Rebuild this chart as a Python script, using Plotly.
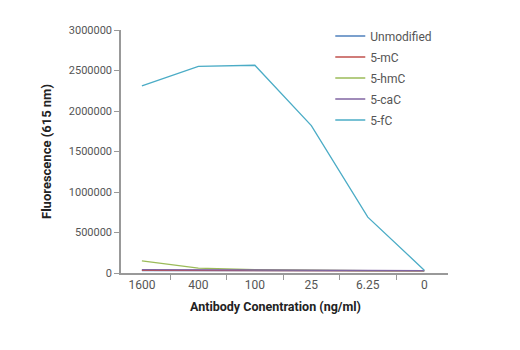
import plotly.graph_objects as go

categories = ["1600", "400", "100", "25", "6.25", "0"]
unmodified = [30000, 28000, 28000, 27000, 27000, 27000]
mc5 = [32000, 30000, 29000, 28000, 28000, 28000]
hmc5 = [150000, 60000, 40000, 32000, 30000, 30000]
cac5 = [42000, 38000, 33000, 30000, 29000, 29000]
fc5 = [2310000, 2550000, 2565000, 1820000, 690000, 35000]

series = [
    ("Unmodified", unmodified, "#4F81BD"),
    ("5-mC", mc5, "#C0504D"),
    ("5-hmC", hmc5, "#9BBB59"),
    ("5-caC", cac5, "#8064A2"),
    ("5-fC", fc5, "#4BACC6"),
]

font_family = "Roboto, sans-serif"

fig = go.Figure()
for name, vals, color in series:
    fig.add_trace(go.Scatter(x=categories, y=vals, name=name, mode="lines",
                             legendgroup=name,
                             line=dict(color=color, width=1.3)))

fig.update_layout(
    width=520, height=350,
    margin=dict(l=121, r=72, t=30, b=77),
    paper_bgcolor="white", plot_bgcolor="white",
    font=dict(family=font_family, size=11, color="#555555"),
    showlegend=True,
    legend=dict(x=0.64, y=1.035, xanchor="left", yanchor="top",
                bgcolor="rgba(0,0,0,0)", font=dict(size=12, color="#555555"),
                tracegroupgap=2, itemwidth=30),
    xaxis=dict(
        type="category", tickson="boundaries", range=[-0.37, 5.42],
        showline=True, linecolor="#999999", linewidth=1.5,
        ticks="outside", ticklen=5, tickcolor="#999999",
        tickfont=dict(size=12),
        showgrid=False, zeroline=False,
    ),
    yaxis=dict(
        range=[0, 3000000], tickvals=[0, 500000, 1000000, 1500000, 2000000, 2500000, 3000000],
        tickformat="d",
        showline=True, linecolor="#999999", linewidth=1.5,
        ticks="outside", ticklen=5, tickcolor="#999999",
        showgrid=False, zeroline=False,
        title=dict(text="<b>Fluorescence (615 nm)</b>", font=dict(size=13, color="#222222"), standoff=14),
    ),
    annotations=[dict(
        text="<b>Antibody Conentration (ng/ml)</b>", xref="paper", yref="paper",
        x=0.474, y=-0.136, xanchor="center", yanchor="middle", showarrow=False,
        font=dict(size=12.5, color="#222222"),
    )],
)

fig.write_html("out.html")
